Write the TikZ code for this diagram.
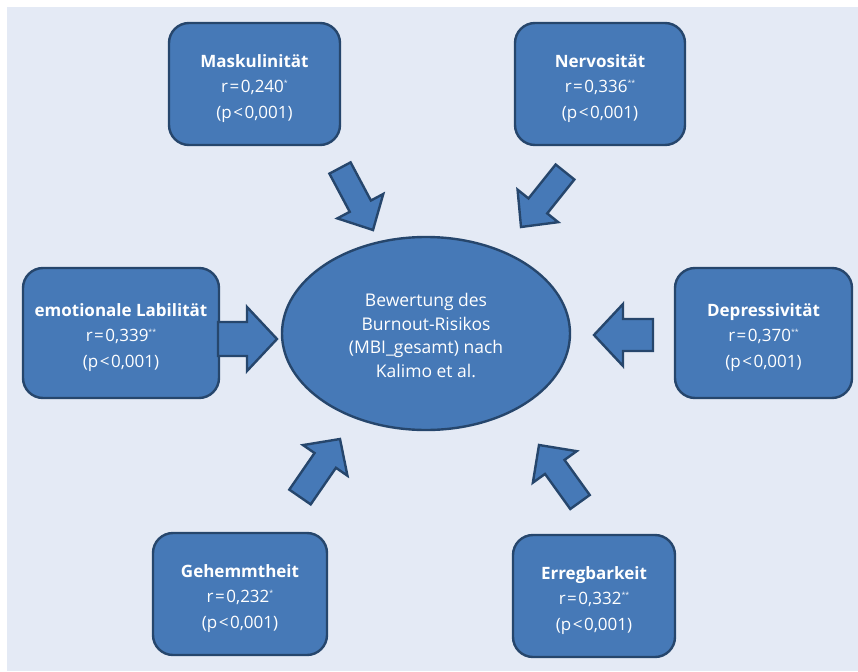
\documentclass[tikz,border=0pt]{standalone}
\usepackage{fontspec}
\setmainfont{Open Sans}
\usetikzlibrary{calc, shapes.geometric}

\definecolor{bg}{RGB}{228,234,245}
\definecolor{boxfill}{RGB}{70,121,183}
\definecolor{boxline}{RGB}{38,70,108}

% significance stars
\newcommand{\sig}[1]{\raisebox{0.8ex}{\fontsize{7}{7}\selectfont #1}}
% spaced relation signs
\newcommand{\req}{\kern1.5pt=\kern1.5pt}
\newcommand{\rlt}{\kern1.5pt<\kern1.5pt}
% first line struts (push the text block down)
\newcommand{\boxtop}{\rule{0pt}{22pt}}
\newcommand{\elltop}{\rule{0pt}{17pt}}

% block arrow: tail, tip, half shaft width, half head width, head length
\newcommand{\bigarrow}[5]{
  \coordinate (hb) at ($(#2)!#5!(#1)$);
  \draw[blk] ($(#1)!#3!-90:(#2)$) -- ($(hb)!#3!-90:(#2)$) -- ($(hb)!#4!-90:(#2)$)
    -- (#2) -- ($(hb)!#4!90:(#2)$) -- ($(hb)!#3!90:(#2)$) -- ($(#1)!#3!90:(#2)$) -- cycle;
}

\begin{document}
\begin{tikzpicture}[x=1pt, y=-1pt, line width=2.4pt,
    main/.style = {draw=boxline, fill=boxfill, rounded corners=20pt, text=white,
      align=center, inner sep=0pt, font=\fontsize{17}{25.5}\selectfont},
    ell/.style = {draw=boxline, fill=boxfill, ellipse, text=white, align=center,
      inner sep=0pt, minimum width=288pt, minimum height=193pt,
      font=\fontsize{17.5}{23.7}\selectfont},
    blk/.style = {draw=boxline, fill=boxfill, line join=miter}]
  \useasboundingbox (0,0) rectangle (858,671);
  \fill[bg] (7,7) rectangle (858,671);

  \node[main, minimum width=171pt, minimum height=122pt] (1) at (254.5,84)
    {\boxtop\textbf{Maskulinität}\\r\req0,240\sig{*}\\(p\rlt0,001)};
  \node[main, minimum width=170pt, minimum height=122pt] (2) at (600,84)
    {\boxtop\textbf{Nervosität}\\r\req0,336\sig{**}\\(p\rlt0,001)};
  \node[main, minimum width=196pt, minimum height=130pt] (3) at (121,333)
    {\boxtop\textbf{emotionale Labilität}\\r\req0,339\sig{**}\\(p\rlt0,001)};
  \node[main, minimum width=177pt, minimum height=130pt] (4) at (763.5,333)
    {\boxtop\textbf{Depressivität}\\r\req0,370\sig{**}\\(p\rlt0,001)};
  \node[main, minimum width=174pt, minimum height=122pt] (5) at (240,594)
    {\boxtop\textbf{Gehemmtheit}\\r\req0,232\sig{*}\\(p\rlt0,001)};
  \node[main, minimum width=162pt, minimum height=122pt] (6) at (594,596)
    {\boxtop\textbf{Erregbarkeit}\\r\req0,332\sig{**}\\(p\rlt0,001)};

  \node[ell] (0) at (426,333.5)
    {\elltop Bewertung des\\Burnout-Risikos\\(MBI\_gesamt) nach\\Kalimo et al.};

  % arrow ends
  \coordinate (t1) at (340,168); \coordinate (p1) at (373,230);
  \coordinate (t2) at (565,172); \coordinate (p2) at (521,227);
  \coordinate (t3) at (218,339); \coordinate (p3) at (277,339);
  \coordinate (t4) at (653,335); \coordinate (p4) at (594,335);
  \coordinate (t5) at (300,497); \coordinate (p5) at (340,439);
  \coordinate (t6) at (580,502); \coordinate (p6) at (539,445);

  \bigarrow{t1}{p1}{12pt}{26pt}{27pt}
  \bigarrow{t2}{p2}{12pt}{26pt}{27pt}
  \bigarrow{t3}{p3}{17pt}{32pt}{30pt}
  \bigarrow{t4}{p4}{16pt}{31pt}{29pt}
  \bigarrow{t5}{p5}{13pt}{27pt}{26pt}
  \bigarrow{t6}{p6}{12pt}{27pt}{27pt}
\end{tikzpicture}
\end{document}
